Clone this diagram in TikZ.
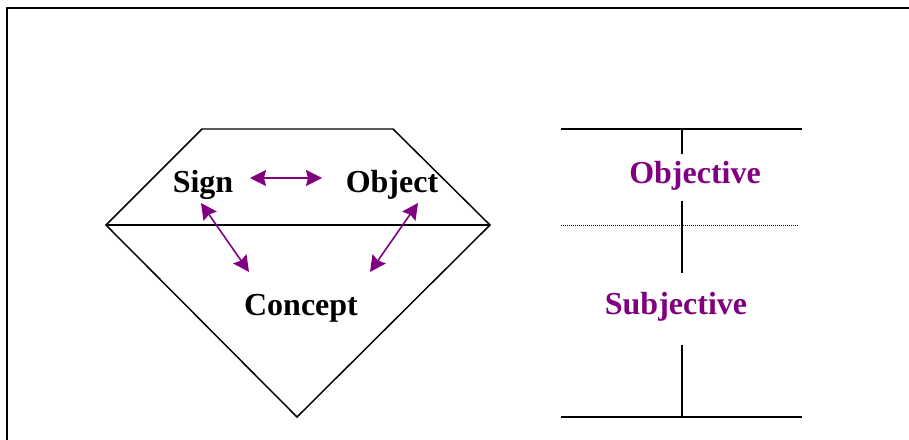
\documentclass[tikz,border=0pt]{standalone}
\usepackage{fontspec}
\setmainfont{Liberation Serif}
\usetikzlibrary{arrows.meta}
\definecolor{plum}{HTML}{800080}
\tikzset{
  edge/.style={line width=1.1pt, black},
  frame/.style={line width=1.6pt, black},
  arr/.style={line width=1.2pt, plum, {Stealth[length=12pt,width=12pt,inset=1.5pt]}-{Stealth[length=12pt,width=12pt,inset=1.5pt]}},
  lbl/.style={font=\bfseries\fontsize{24}{28}\selectfont, anchor=base, inner sep=0pt},
  plbl/.style={lbl, text=plum},
  dotline/.style={line width=0.7pt, dash pattern=on 0.75pt off 0.75pt}
}
\begin{document}
\begin{tikzpicture}[x=0.75pt,y=-0.75pt]
\useasboundingbox (0,0) rectangle (909,439);
% frame
\coordinate (f1) at (7,445);
\coordinate (f2) at (7,8);
\coordinate (f3) at (915,8);
\draw[frame] (f1) -- (f2) -- (f3);
% diamond
\coordinate (tl) at (202,129);
\coordinate (tr) at (393,129);
\coordinate (lv) at (106,225);
\coordinate (rv) at (490,225);
\coordinate (bp) at (297,417);
\draw[edge, line join=miter] (lv) -- (tl) -- (tr) -- (rv) -- (bp) -- cycle;
\draw[edge] (lv) -- (rv);
% labels
\node[lbl] (sign) at (203,192.5) {Sign};
\node[lbl] (object) at (392,192.5) {Object};
\node[lbl] (concept) at (301,315) {Concept};
% arrows
\coordinate (so1) at (250,178);
\coordinate (so2) at (322,178);
\coordinate (sc1) at (201,203);
\coordinate (sc2) at (249,272);
\coordinate (oc1) at (418,203);
\coordinate (oc2) at (370,272);
\draw[arr] (so1) -- (so2);
\draw[arr] (sc1) -- (sc2);
\draw[arr] (oc1) -- (oc2);
% right side
\coordinate (rt1) at (561,129);
\coordinate (rt2) at (802,129);
\coordinate (rb1) at (561,417);
\coordinate (rb2) at (802,417);
\coordinate (rd1) at (561,225);
\coordinate (rd2) at (799,225);
\draw[edge] (rt1) -- (rt2);
\draw[edge] (rb1) -- (rb2);
\draw[dotline] (rd1) -- (rd2);
\coordinate (v1) at (682,129);
\coordinate (v2) at (682,154);
\coordinate (v3) at (682,201);
\coordinate (v4) at (682,273);
\coordinate (v5) at (682,345);
\coordinate (v6) at (682,417);
\draw[edge] (v1) -- (v2);
\draw[edge] (v3) -- (v4);
\draw[edge] (v5) -- (v6);
\node[plbl] (objective) at (695,183.5) {Objective};
\node[plbl] (subjective) at (676,314.5) {Subjective};
\end{tikzpicture}
\end{document}
